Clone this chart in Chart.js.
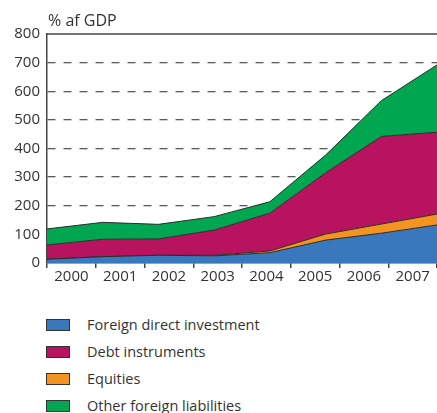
<!DOCTYPE html>
<html>
<head>
<meta charset="utf-8">
<script src="https://cdn.jsdelivr.net/npm/chart.js@4"></script>
<style>
  body { margin: 0; background: #fff; font-family: "Open Sans", sans-serif; color: #333; }
  #wrap { position: relative; width: 437px; height: 290px; }
  #legend { list-style: none; margin: 0; padding: 0; position: absolute; left: 46px; top: 311px; }
  #legend li { height: 27px; display: flex; align-items: center; font-size: 14.5px; }
  #legend span.box { display: inline-block; width: 22px; height: 10px; border: 1px solid #333; margin-right: 17px; }
</style>
</head>
<body>
<div id="wrap"><canvas id="chart"></canvas></div>
<ul id="legend"></ul>
<script>
const years = ["2000", "2001", "2002", "2003", "2004", "2005", "2006", "2007"];
const fdi = [13, 22, 27, 25, 36, 80, 104, 133];
const equities = [0, 0, 0, 2, 6, 21, 32, 38];
const debt = [50, 61, 57, 88, 132, 214, 306, 286];
const other = [56, 59, 51, 47, 40, 62, 125, 235];
const yTicks = [0, 100, 200, 300, 400, 500, 600, 700, 800];

const series = [
  { label: "Foreign direct investment", data: fdi, color: "#3a78bd" },
  { label: "Equities", data: equities, color: "#f39420" },
  { label: "Debt instruments", data: debt, color: "#b8135f" },
  { label: "Other foreign liabilities", data: other, color: "#00a650" }
];
const legendOrder = [0, 2, 1, 3];

const datasets = series.map((s, i) => ({
  label: s.label,
  data: s.data.map((v, j) => ({ x: j, y: v })),
  backgroundColor: s.color,
  borderColor: "#2b2b2b",
  borderWidth: 1,
  pointRadius: 0,
  tension: 0,
  fill: i === 0 ? "origin" : "-1"
}));

const topLine = {
  id: "topLine",
  afterDraw(chart) {
    const { ctx, chartArea } = chart;
    ctx.save();
    ctx.strokeStyle = "#444";
    ctx.lineWidth = 1.5;
    ctx.beginPath();
    ctx.moveTo(chartArea.left, chartArea.top);
    ctx.lineTo(chartArea.right, chartArea.top);
    ctx.stroke();
    ctx.fillStyle = "#333";
    ctx.font = "16px 'Open Sans'";
    ctx.textBaseline = "middle";
    ctx.fillText("% af GDP", 48, 21);
    ctx.restore();
  }
};

chart = new Chart(document.getElementById("chart"), {
  type: "line",
  data: { datasets: datasets },
  options: {
    responsive: true,
    maintainAspectRatio: false,
    animation: false,
    layout: { padding: { top: 34, right: 0, bottom: 0, left: 0 } },
    plugins: { legend: { display: false }, tooltip: { enabled: false } },
    scales: {
      x: { type: "linear", min: 0, max: 7, display: false },
      xLabels: {
        type: "category",
        labels: years,
        position: "bottom",
        offset: true,
        grid: { offset: true, drawOnChartArea: false, tickLength: 5, color: "#444", lineWidth: 1.5 },
        border: { display: true, color: "#444", width: 1.5 },
        ticks: { color: "#333", font: { family: "Open Sans", size: 15 }, padding: 0 },
        afterFit: (scale) => { scale.height = 27; }
      },
      y: {
        stacked: true,
        min: 0,
        max: 800,
        afterBuildTicks: (scale) => { scale.ticks = yTicks.map((v) => ({ value: v })); },
        grid: {
          color: (c) => (c.tick && (c.tick.value === 0 || c.tick.value === 800) ? "transparent" : "#5a5a5a"),
          lineWidth: 1.3,
          drawTicks: false
        },
        border: { display: true, color: "#444", width: 1.5, dash: [8, 8] },
        ticks: { color: "#333", font: { family: "Open Sans", size: 15 }, padding: 7 },
        afterFit: (scale) => { scale.width = 47; }
      }
    }
  },
  plugins: [topLine]
});

const legend = document.getElementById("legend");
legendOrder.forEach((i) => {
  const li = document.createElement("li");
  const box = document.createElement("span");
  box.className = "box";
  box.style.background = series[i].color;
  li.appendChild(box);
  li.appendChild(document.createTextNode(series[i].label));
  legend.appendChild(li);
});
</script>
</body>
</html>
